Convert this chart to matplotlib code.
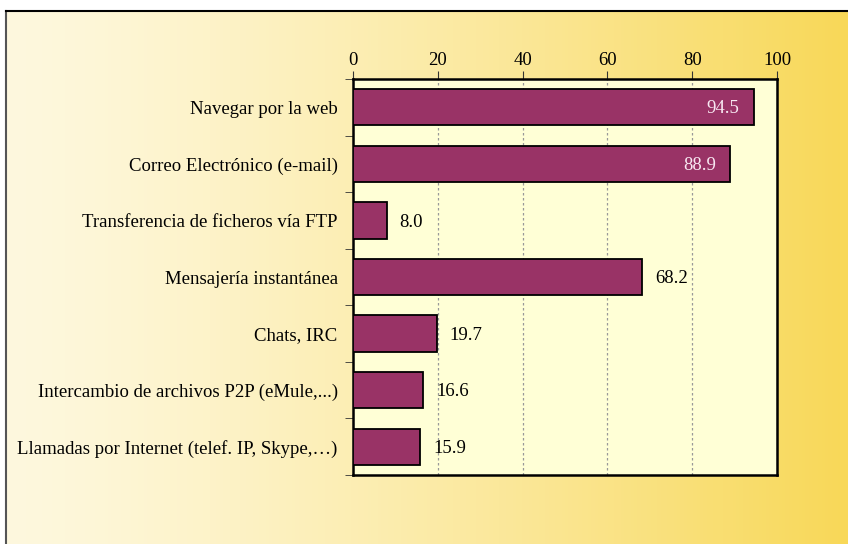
import matplotlib.pyplot as plt
import numpy as np

categorias = ['Navegar por la web',
              'Correo Electrónico (e-mail)',
              'Transferencia de ficheros vía FTP',
              'Mensajería instantánea',
              'Chats, IRC',
              'Intercambio de archivos P2P (eMule,...)',
              'Llamadas por Internet (telef. IP, Skype,\u2026)']
valores = [94.5, 88.9, 8.0, 68.2, 19.7, 16.6, 15.9]
ticks_x = [0, 20, 40, 60, 80, 100]

plt.rcParams['font.family'] = ['Liberation Serif', 'DejaVu Serif']
fs = 13.5

fig = plt.figure(figsize=(8.48, 5.44), dpi=100)
fig.patch.set_facecolor('white')

# fondo degradado
bg = fig.add_axes([6 / 848, 0, 1 - 6 / 848, 1 - 11 / 544])
t = np.linspace(0, 1, 256)
c0 = np.array([254, 248, 222]) / 255.
c1 = np.array([248, 216, 88]) / 255.
w = t ** 1.3
grad = (c0[None, :] * (1 - w[:, None]) + c1[None, :] * w[:, None])[None, :, :]
bg.imshow(grad, aspect='auto', extent=[0, 1, 0, 1])
bg.set_xlim(0, 1)
bg.set_ylim(0, 1)
bg.set_xticks([])
bg.set_yticks([])
for s in ['right', 'bottom']:
    bg.spines[s].set_visible(False)
bg.spines['top'].set_linewidth(1.5)
bg.spines['left'].set_color('#555555')
bg.spines['left'].set_linewidth(1.5)

ax = fig.add_axes([353 / 848, 1 - 475 / 544, (777 - 353) / 848, (475 - 79) / 544])
ax.set_facecolor('#FFFFD6')
y = np.arange(len(categorias))
ax.barh(y, valores, height=0.64, color='#993366', edgecolor='black', linewidth=1.3, zorder=3)
ax.set_xlim(0, 100)
ax.set_ylim(len(categorias) - 0.5, -0.5)
ax.xaxis.tick_top()
ax.set_xticks(ticks_x)
ax.set_xticklabels([str(v) for v in ticks_x], fontsize=fs)
ax.tick_params(axis='x', direction='out', length=6, pad=1, color='#333333')
ax.set_yticks(y)
ax.set_yticklabels(categorias, fontsize=fs)
ax.tick_params(axis='y', which='major', length=0, pad=11)
ax.set_yticks(np.arange(-0.5, len(categorias)), minor=True)
ax.tick_params(axis='y', which='minor', direction='out', length=6, color='#333333')
ax.grid(axis='x', linestyle=(0, (2, 2)), color='#999999', linewidth=0.9, zorder=1)
for s in ax.spines.values():
    s.set_linewidth(1.8)

for yi, v in zip(y, valores):
    if v > 80:
        ax.text(v - 3.3, yi + 0.03, '%.1f' % v, ha='right', va='center', fontsize=fs,
                color='#F8E8F2', zorder=4)
    else:
        ax.text(v + 3.0, yi + 0.03, '%.1f' % v, ha='left', va='center', fontsize=fs,
                color='black', zorder=4)

plt.savefig('out.png', dpi=100)
